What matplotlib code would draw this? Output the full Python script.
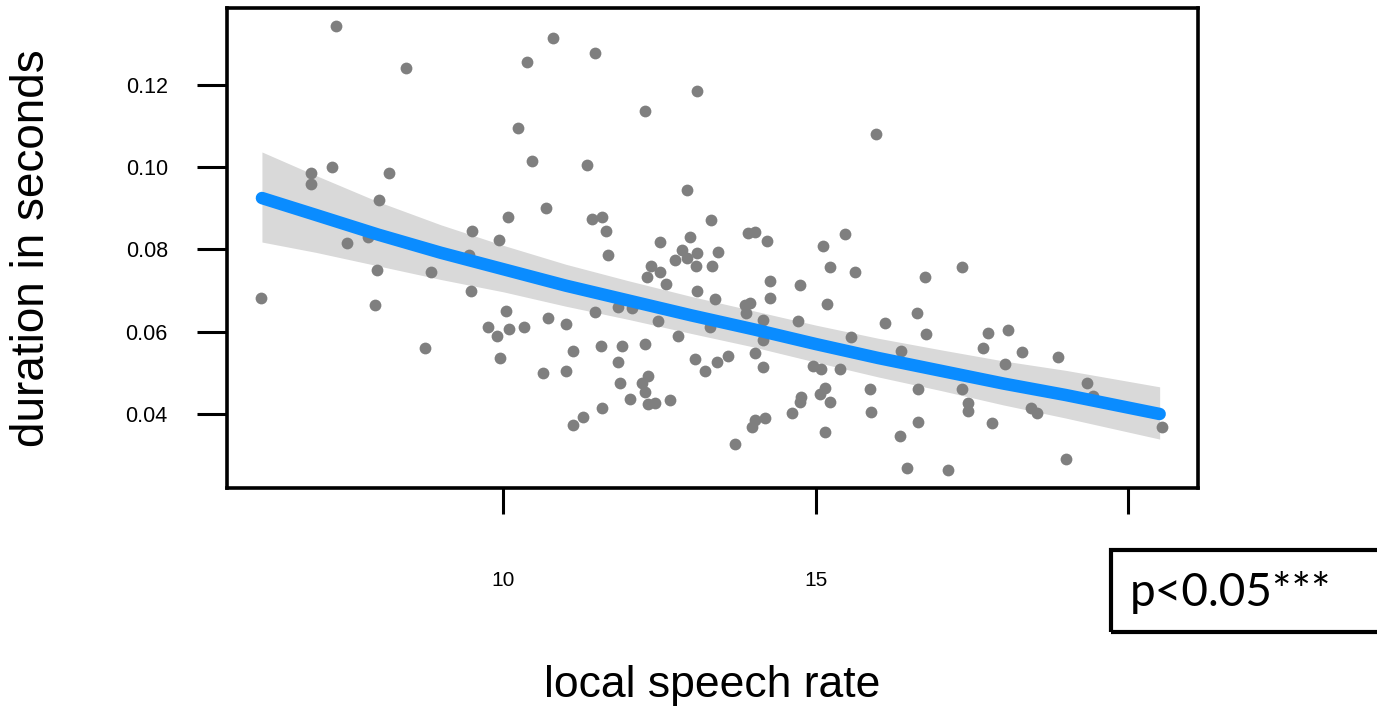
import matplotlib.pyplot as plt
from matplotlib.patches import Rectangle

# ── data ──────────────────────────────────────────────────────────
rate = [7.33, 8.45, 10.38, 10.80, 11.47, 13.10, 12.26, 15.97, 10.24, 10.46,
        6.93, 6.93, 7.26, 8.18, 8.02, 10.69, 10.08, 9.50, 9.94, 7.50,
        7.84, 11.34, 12.94, 11.42, 11.58, 11.65, 13.33, 12.98, 12.50, 13.92,
        14.02, 14.22, 15.12, 15.47,
        11.68, 12.86, 13.10, 13.44, 12.94, 12.75, 13.09, 13.34, 12.37, 12.50,
        12.30, 12.61, 15.22, 15.63, 14.27, 14.75, 13.10, 13.39, 14.27, 15.18,
        13.87, 13.95, 13.89, 11.47, 11.84, 12.06, 10.72, 11.01, 12.48, 13.30,
        14.16, 14.72, 12.80, 14.16, 15.57, 11.12, 11.57, 11.90, 12.26, 14.02,
        13.60, 11.84, 13.06, 13.42, 13.22, 14.16, 14.96, 15.09, 15.38, 10.64,
        11.01, 12.32, 12.22, 11.86, 12.27, 15.87, 15.14, 15.06, 12.03, 12.66,
        12.32, 12.42, 14.77, 14.74, 15.22, 15.89, 11.58, 11.28, 11.12, 14.62,
        14.19, 14.03, 13.98, 15.15, 13.70,
        7.98, 8.85, 9.49, 9.46, 6.13, 7.95, 10.05, 9.76, 10.10, 10.34,
        9.90, 8.75, 9.95,
        17.34, 16.74, 16.62, 16.10, 16.77, 17.76, 18.08, 17.68, 18.30, 18.88,
        16.37, 18.02, 16.64, 17.34, 17.44, 17.44, 18.45, 18.54, 19.33, 19.44,
        16.64, 17.82, 16.34, 20.53, 19.01, 16.46, 17.12]

duration = [0.1343, 0.1241, 0.1255, 0.1314, 0.1277, 0.1185, 0.1136, 0.1080, 0.1095, 0.1015,
            0.0986, 0.0959, 0.1000, 0.0986, 0.0920, 0.0901, 0.0879, 0.0845, 0.0823, 0.0816,
            0.0830, 0.1005, 0.0944, 0.0874, 0.0879, 0.0845, 0.0871, 0.0830, 0.0818, 0.0840,
            0.0842, 0.0820, 0.0808, 0.0837,
            0.0786, 0.0799, 0.0791, 0.0794, 0.0779, 0.0774, 0.0760, 0.0760, 0.0760, 0.0745,
            0.0733, 0.0716, 0.0757, 0.0745, 0.0723, 0.0713, 0.0699, 0.0679, 0.0682, 0.0667,
            0.0665, 0.0670, 0.0645, 0.0648, 0.0660, 0.0658, 0.0633, 0.0619, 0.0626, 0.0611,
            0.0628, 0.0626, 0.0590, 0.0580, 0.0587, 0.0553, 0.0565, 0.0565, 0.0570, 0.0548,
            0.0541, 0.0526, 0.0534, 0.0526, 0.0504, 0.0514, 0.0517, 0.0509, 0.0509, 0.0500,
            0.0504, 0.0492, 0.0475, 0.0475, 0.0453, 0.0461, 0.0463, 0.0449, 0.0436, 0.0434,
            0.0424, 0.0427, 0.0441, 0.0429, 0.0429, 0.0405, 0.0415, 0.0393, 0.0373, 0.0402,
            0.0390, 0.0385, 0.0368, 0.0356, 0.0327,
            0.0750, 0.0745, 0.0699, 0.0786, 0.0682, 0.0665, 0.0650, 0.0611, 0.0607, 0.0611,
            0.0590, 0.0560, 0.0536,
            0.0757, 0.0733, 0.0645, 0.0621, 0.0594, 0.0597, 0.0604, 0.0560, 0.0551, 0.0539,
            0.0553, 0.0522, 0.0461, 0.0461, 0.0427, 0.0407, 0.0415, 0.0402, 0.0475, 0.0444,
            0.0381, 0.0378, 0.0347, 0.0368, 0.0291, 0.0269, 0.0264]

# smoothed trend and its confidence band
fit_x   = [6.14, 7, 8, 9, 10, 11, 12, 13, 14, 15, 16, 17, 18, 19, 20.5]
fit_y   = [0.0925, 0.0884, 0.0836, 0.0792, 0.0752, 0.0712, 0.0676, 0.0640,
           0.0606, 0.0570, 0.0536, 0.0505, 0.0474, 0.0446, 0.0400]
band_hi = [0.1037, 0.0980, 0.0916, 0.0860, 0.0810, 0.0764, 0.0724, 0.0686,
           0.0651, 0.0616, 0.0584, 0.0556, 0.0529, 0.0506, 0.0466]
band_lo = [0.0818, 0.0793, 0.0760, 0.0727, 0.0697, 0.0662, 0.0630, 0.0596,
           0.0563, 0.0526, 0.0490, 0.0457, 0.0422, 0.0390, 0.0339]

x_ticks = [10, 15, 20]
x_tick_labels = ["10", "15", ""]
y_ticks = [0.04, 0.06, 0.08, 0.10, 0.12]
y_tick_labels = ["0.04", "0.06", "0.08", "0.10", "0.12"]

x_label = "local speech rate"
y_label = "duration in seconds"
p_text = "p<0.05***"
# ─────────────────────────────────────────────────────────────────

plt.rcParams['font.family'] = ['Liberation Sans', 'DejaVu Sans']

fig = plt.figure(figsize=(13.77, 7.14), dpi=100)
ax = fig.add_axes([0.1648, 0.3165, 0.7055, 0.6723])

ax.fill_between(fit_x, band_lo, band_hi, color='#d9d9d9', linewidth=0, zorder=1)
ax.scatter(rate, duration, s=72, color='#7f7f7f', linewidths=0, zorder=2)
ax.plot(fit_x, fit_y, color='#0a8cff', linewidth=9, solid_capstyle='round', zorder=3)

ax.set_xlim(5.58, 21.12)
ax.set_ylim(0.0220, 0.1387)

ax.set_xticks(x_ticks)
ax.set_xticklabels(x_tick_labels)
ax.set_yticks(y_ticks)
ax.set_yticklabels(y_tick_labels)

ax.tick_params(axis='y', length=21.6, width=2.2, pad=21, labelsize=15.5)
ax.tick_params(axis='x', length=19, width=2.2, pad=41, labelsize=15)

for s in ax.spines.values():
    s.set_linewidth(2.6)

fig.text(0.0232, 0.653, y_label, rotation=90, ha='center', va='center', fontsize=33)
fig.text(0.517, 0.040, x_label, ha='center', va='center', fontsize=32)

# significance box in the lower right corner
fig.patches.append(Rectangle((1111 / 1377, 1 - 632 / 714), 0.22, 82 / 714,
                             transform=fig.transFigure, fill=False,
                             edgecolor='black', linewidth=3, zorder=5))
fig.text(1130 / 1377, 1 - 592 / 714, p_text, ha='left', va='center',
         fontsize=33, family=['Lato', 'DejaVu Sans'])

fig.savefig("out.png", dpi=100)
